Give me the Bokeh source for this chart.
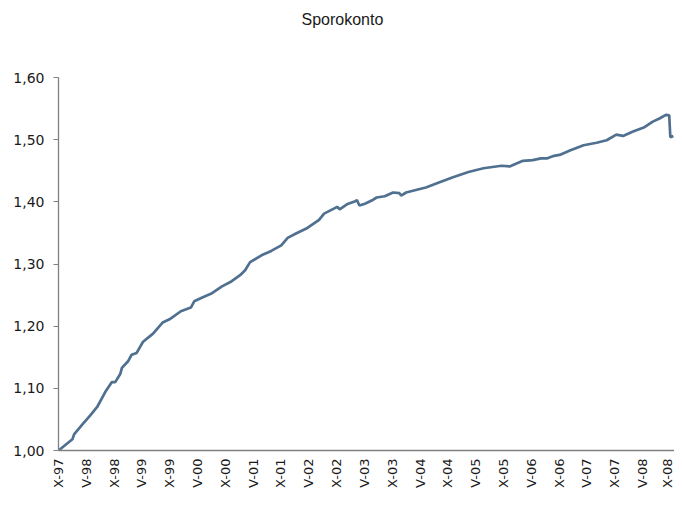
from bokeh.plotting import figure
from bokeh.models import Range1d, FixedTicker, CustomJSTickFormatter, Title
from bokeh.embed import file_html
from bokeh.resources import INLINE

# x position in label periods (0 = X-97, 22 = X-08)
periods = [0.0, 0.50, 0.56, 0.86, 1.15, 1.39, 1.68, 1.92, 2.04, 2.22, 2.28, 2.51, 2.63, 2.81,
           3.04, 3.40, 3.75, 3.99, 4.40, 4.76, 4.88, 5.17, 5.52, 5.88, 6.18, 6.53, 6.71, 6.89,
           7.30, 7.65, 8.01, 8.24, 8.54, 8.95, 9.37, 9.55, 9.90, 10.02, 10.11, 10.37, 10.67,
           10.73, 10.82, 11.02, 11.26, 11.44, 11.73, 12.03, 12.26, 12.32, 12.50, 12.85, 13.21,
           13.68, 14.16, 14.74, 15.28, 15.93, 16.22, 16.70, 17.05, 17.35, 17.58, 17.82, 18.06,
           18.41, 18.88, 19.35, 19.71, 20.06, 20.30, 20.66, 21.07, 21.37, 21.61, 21.84, 21.96,
           22.00, 22.11]
values = [1.000, 1.018, 1.026, 1.042, 1.057, 1.070, 1.094, 1.110, 1.110, 1.123, 1.133, 1.144,
          1.154, 1.157, 1.175, 1.188, 1.206, 1.211, 1.224, 1.230, 1.240, 1.246, 1.253, 1.264,
          1.271, 1.282, 1.290, 1.303, 1.314, 1.321, 1.330, 1.342, 1.349, 1.358, 1.371, 1.381,
          1.389, 1.392, 1.388, 1.396, 1.401, 1.403, 1.394, 1.397, 1.402, 1.407, 1.409, 1.415,
          1.414, 1.410, 1.415, 1.419, 1.423, 1.431, 1.439, 1.448, 1.454, 1.458, 1.457, 1.466,
          1.467, 1.470, 1.470, 1.474, 1.476, 1.483, 1.491, 1.495, 1.499, 1.508, 1.506, 1.513,
          1.520, 1.529, 1.534, 1.540, 1.539, 1.504, 1.506]

x_labels = ["X-97", "V-98", "X-98", "V-99", "X-99", "V-00", "X-00", "V-01", "X-01", "V-02",
            "X-02", "V-03", "X-03", "V-04", "X-04", "V-05", "X-05", "V-06", "X-06", "V-07",
            "X-07", "V-08", "X-08"]
y_ticks = [1.0, 1.1, 1.2, 1.3, 1.4, 1.5, 1.6]
title_text = "Sporokonto"

p = figure(width=674, height=490, output_backend="svg", toolbar_location=None,
           x_range=Range1d(0, 22.15), y_range=Range1d(1.0, 1.6),
           min_border_left=58, min_border_right=0, min_border_top=0, min_border_bottom=0)
p.title = None

# spacer between the frame and the title (nearest the frame)
p.add_layout(Title(text=" ", text_font_size="2px", standoff=34), "above")
# the chart title (outermost)
p.add_layout(Title(text=title_text, align="left", vertical_align="top",
                   text_font="Liberation Sans", text_font_size="16px",
                   text_font_style="normal", text_color="#1a1a1a",
                   standoff=20, offset=243), "above")

p.line(periods, values, line_color="#50708f", line_width=2.7)

p.xgrid.visible = False
p.ygrid.visible = False
p.outline_line_color = None
p.background_fill_color = "white"
p.border_fill_color = "white"

xa = p.xaxis[0]
xa.ticker = FixedTicker(ticks=list(range(len(x_labels))))
xa.formatter = CustomJSTickFormatter(args=dict(labels=x_labels),
                                     code="return labels[Math.round(tick)] || '';")
xa.major_label_orientation = 1.5707963
xa.major_tick_out = 0
xa.major_tick_in = 0
xa.minor_tick_out = 0
xa.minor_tick_in = 0
xa.axis_line_color = "#808080"
xa.axis_line_width = 1.3
xa.major_label_standoff = 8
xa.major_label_text_font = "DejaVu Sans"
xa.major_label_text_font_size = "13px"
xa.major_label_text_color = "#1a1a1a"

ya = p.yaxis[0]
ya.ticker = FixedTicker(ticks=y_ticks)
ya.formatter = CustomJSTickFormatter(code="return tick.toFixed(2).replace('.', ',');")
ya.major_tick_out = 5
ya.major_tick_in = 0
ya.minor_tick_out = 0
ya.minor_tick_in = 0
ya.axis_line_color = "#808080"
ya.major_tick_line_color = "#808080"
ya.axis_line_width = 1.3
ya.major_label_standoff = 9
ya.major_label_text_font = "DejaVu Sans"
ya.major_label_text_font_size = "14px"
ya.major_label_text_color = "#1a1a1a"

open("out.html", "w").write(file_html(p, INLINE))
